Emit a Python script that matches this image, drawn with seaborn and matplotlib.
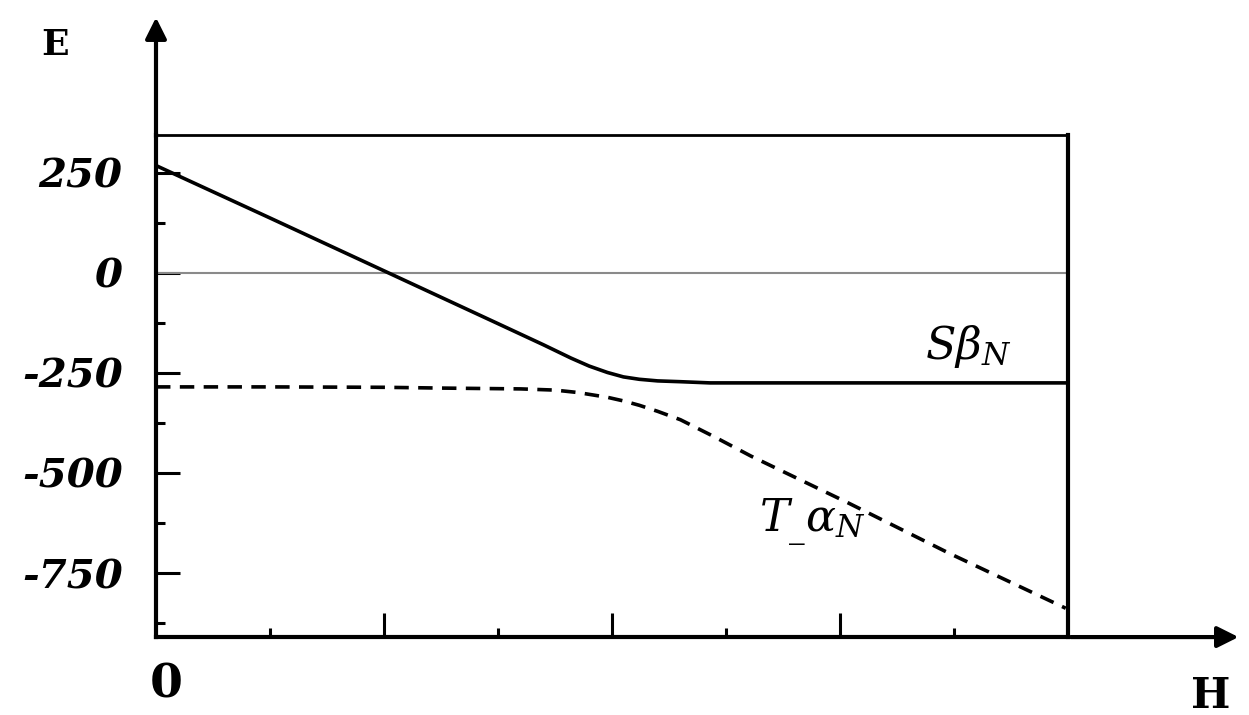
import matplotlib
matplotlib.use('Agg')
import matplotlib.pyplot as plt
import seaborn as sns

# values
h_s = [0, 0.5, 1.0, 1.5, 1.7, 1.82, 1.9, 1.98, 2.05, 2.12, 2.2, 2.3, 2.43, 3.0, 4.0]
e_s = [268, 137, 5, -127, -180, -213, -233, -249, -260, -266, -270, -272, -275, -275, -275]

h_t = [0, 0.5, 1.0, 1.26, 1.6, 1.75, 1.85, 1.98, 2.05, 2.12, 2.2, 2.3, 2.45, 2.61, 3.04, 3.48, 3.99]
e_t = [-285, -285, -286, -288, -290, -293, -299, -311, -320, -331, -346, -367, -410, -458, -576, -701, -838]

y_ticks = [250, 0, -250, -500, -750]
y_labels = ['250', '0', '-250', '-500', '-750']

sns.set_style('ticks')
plt.rcParams['font.family'] = ['DejaVu Serif']
plt.rcParams['mathtext.fontset'] = 'dejavuserif'
plt.rcParams['axes.unicode_minus'] = False
plt.rcParams['text.color'] = 'black'
plt.rcParams['ytick.color'] = 'black'
plt.rcParams['xtick.color'] = 'black'

fig = plt.figure(figsize=(12.49, 7.15), dpi=100)
ax = fig.add_axes([0.1249, 0.109, 0.7302, 0.702])

ax.axhline(0, color='#8a8a8a', lw=1.5, zorder=1)
sns.lineplot(x=h_s, y=e_s, color='black', lw=2.6, ax=ax)
sns.lineplot(x=h_t, y=e_t, color='black', lw=2.6, linestyle=(0, (4, 2.6)), ax=ax)

ax.set_xlim(0, 4)
ax.set_ylim(-910, 344)

for side in ['left', 'bottom', 'right']:
    ax.spines[side].set_linewidth(3)
    ax.spines[side].set_color('black')
ax.spines['top'].set_linewidth(2)
ax.spines['top'].set_color('black')

ax.set_xticks([1, 2, 3])
ax.set_xticks([0.5, 1.5, 2.5, 3.5], minor=True)
ax.set_xticklabels([])
ax.set_yticks(y_ticks)
ax.set_yticks([125, -125, -375, -625, -875], minor=True)
ax.set_yticklabels(y_labels, fontsize=29, fontweight='bold', fontstyle='italic', color='black')
ax.tick_params(which='major', direction='in', length=17, width=2.2, color='black')
ax.tick_params(which='minor', direction='in', length=6.5, width=2.2, color='black')
ax.tick_params(axis='y', pad=24)
ax.set_xlabel('')
ax.set_ylabel('')

# axis arrows
ax.annotate('', xy=(0, 1.24), xytext=(0, 0.99), xycoords='axes fraction',
            arrowprops=dict(arrowstyle='-|>', lw=3, color='black', mutation_scale=32),
            annotation_clip=False)
ax.annotate('', xy=(1.19, 0), xytext=(1.0, 0), xycoords='axes fraction',
            arrowprops=dict(arrowstyle='-|>', lw=3, color='black', mutation_scale=32),
            annotation_clip=False)

ax.text(3.56, -185, r'$S\beta_N$', fontsize=32, ha='center', va='center', color='black')
ax.text(2.88, -625, r'$T_{\_}\alpha_N$', fontsize=32, ha='center', va='center', color='black')

fig.text(0.044, 0.937, 'E', fontsize=26, fontweight='bold', ha='center', va='center', color='black')
fig.text(0.133, 0.043, '0', fontsize=34, fontweight='bold', ha='center', va='center', color='black')
fig.text(0.969, 0.027, 'H', fontsize=30, fontweight='bold', ha='center', va='center', color='black')

plt.savefig('out.png', dpi=100)
